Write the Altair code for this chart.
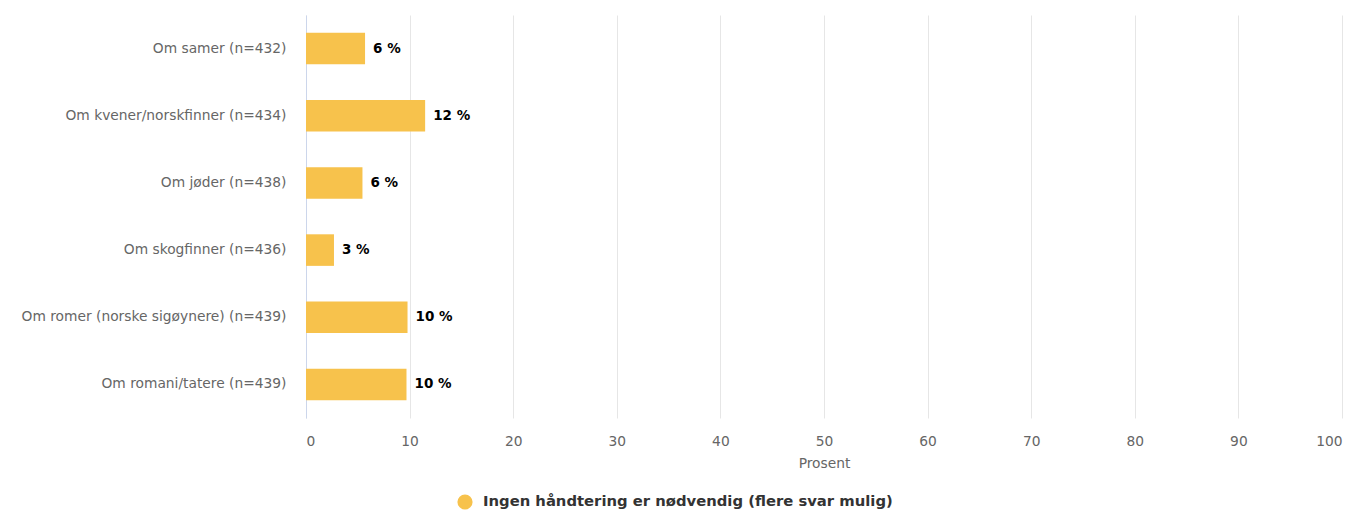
import altair as alt
import pandas as pd

categories = [
    "Om samer (n=432)",
    "Om kvener/norskfinner (n=434)",
    "Om jøder (n=438)",
    "Om skogfinner (n=436)",
    "Om romer (norske sigøynere) (n=439)",
    "Om romani/tatere (n=439)",
]
values = [5.7, 11.5, 5.45, 2.7, 9.8, 9.7]
labels = ["6 %", "12 %", "6 %", "3 %", "10 %", "10 %"]
series = "Ingen håndtering er nødvendig (flere svar mulig)"

df = pd.DataFrame({"cat": categories, "val": values, "lab": labels, "series": series})

FONT = "DejaVu Sans"
COLOR = "#f7c24c"

y_enc = alt.Y("cat:N", sort=categories, title=None,
              scale=alt.Scale(paddingInner=0.53, paddingOuter=0.265),
              axis=alt.Axis(labelColor="#666666", labelFont=FONT, labelFontSize=13.8,
                            labelPadding=20, ticks=False, domainColor="#ccd6eb",
                            domainWidth=1, grid=False, labelLimit=400))

bars = alt.Chart(df).mark_bar(color=COLOR).encode(
    y=y_enc,
    x=alt.X("val:Q", title="Prosent",
            scale=alt.Scale(domain=[0, 100], nice=False),
            axis=alt.Axis(values=list(range(0, 101, 10)), labelColor="#666666",
                          labelFont=FONT, labelFontSize=13.8, labelPadding=16,
                          ticks=False, domain=False, gridColor="#e6e6e6",
                          titleColor="#666666", titleFont=FONT, titleFontSize=13.8,
                          titleFontWeight="normal", titlePadding=9)),
    fill=alt.Fill("series:N", scale=alt.Scale(range=[COLOR]),
                  legend=alt.Legend(title=None, orient="none", legendX=151, legendY=479,
                                    symbolType="circle", symbolSize=230,
                                    symbolStrokeWidth=0, labelOffset=10,
                                    labelFont=FONT, labelFontSize=14.8,
                                    labelFontWeight="bold", labelColor="#333333",
                                    labelLimit=700)),
)

text = alt.Chart(df).mark_text(align="left", baseline="middle", dx=8,
                               font=FONT, fontSize=13.5, fontWeight="bold",
                               color="#000000").encode(
    y=alt.Y("cat:N", sort=categories),
    x=alt.X("val:Q"),
    text="lab:N",
)

chart = (bars + text).properties(
    width=1036, height=403,
    autosize=alt.AutoSizeParams(type="none"),
    padding={"left": 298, "top": 7, "right": 6, "bottom": 92},
).configure_view(stroke=None)

chart.save("out.html", embed_options={"renderer": "svg", "actions": False})
